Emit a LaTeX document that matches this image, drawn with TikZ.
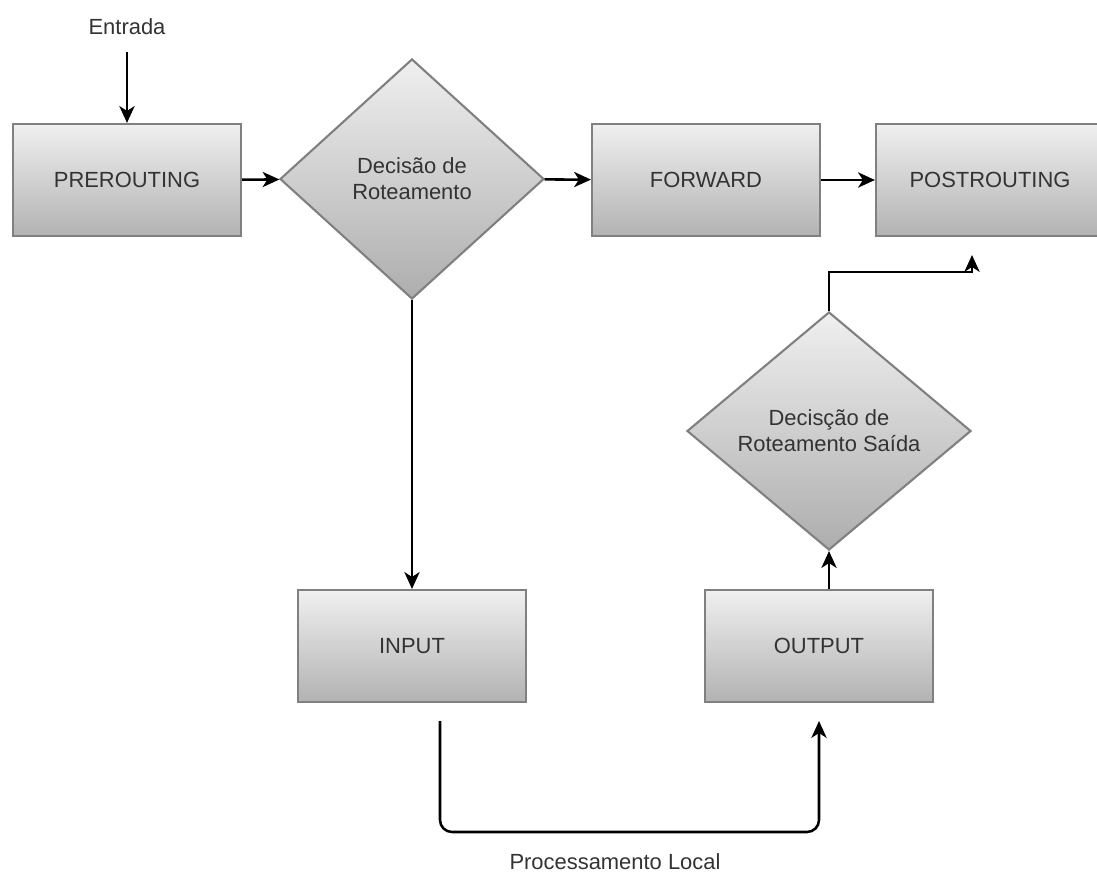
\documentclass[tikz,border=0pt]{standalone}
\usepackage{fontspec}
\setmainfont{Liberation Sans}
\usetikzlibrary{arrows.meta, shapes.geometric}

\begin{document}
\begin{tikzpicture}[x=0.025cm, y=-0.025cm,
  font=\fontsize{15.6}{18.5}\selectfont, text=black!80,
  caixa/.style={rectangle, draw=black!50, line width=1.5pt, top color=black!6, bottom color=black!30, minimum width=5.7cm, minimum height=2.8cm, inner sep=0pt},
  decisao/.style={diamond, draw=black!50, line width=1.5pt, top color=black!6, bottom color=black!32, inner sep=0pt, align=center},
  seta/.style={line width=1.8pt, -{Stealth[length=0.42cm, width=0.38cm, inset=0.12cm]}}]
\clip (0,0) rectangle (1097,879);
\node (entrada) at (127,27) {Entrada};
\node[caixa] (prerouting) at (127,180) {PREROUTING};
\node[decisao, minimum width=6.6cm, minimum height=6cm] (roteamento) at (412,179) {Decisão de\\Roteamento};
\node[caixa] (forward) at (706,180) {FORWARD};
\node[caixa] (postrouting) at (990,180) {POSTROUTING};
\node[caixa] (input) at (412,646) {INPUT};
\node[caixa] (output) at (819,646) {OUTPUT};
\node[decisao, minimum width=7.1cm, minimum height=5.95cm] (saida) at (829,431) {Decisção de\\Roteamento Saída};
\node (local) at (615,862) {Processamento Local};
\coordinate (inicio) at (440,721);
\coordinate (fundo) at (630,832);
\coordinate (chegada) at (819,721);
\coordinate (dobra) at (972,272);
\coordinate (ponta) at (972,255);
\draw[seta, shorten <=0.3cm] (entrada) -- (prerouting);
\draw[seta] (prerouting) -- (roteamento);
\draw[seta] (roteamento) -- (forward);
\draw[seta] (forward) -- (postrouting);
\draw[seta] (roteamento) -- (input);
\draw[seta] (saida.south |- output.north) -- (saida.south);
\draw[seta, rounded corners=0.3cm] (inicio) |- (fundo) -| (chegada);
\draw[seta] (saida.north) |- (dobra) -- (ponta);
\end{tikzpicture}
\end{document}
